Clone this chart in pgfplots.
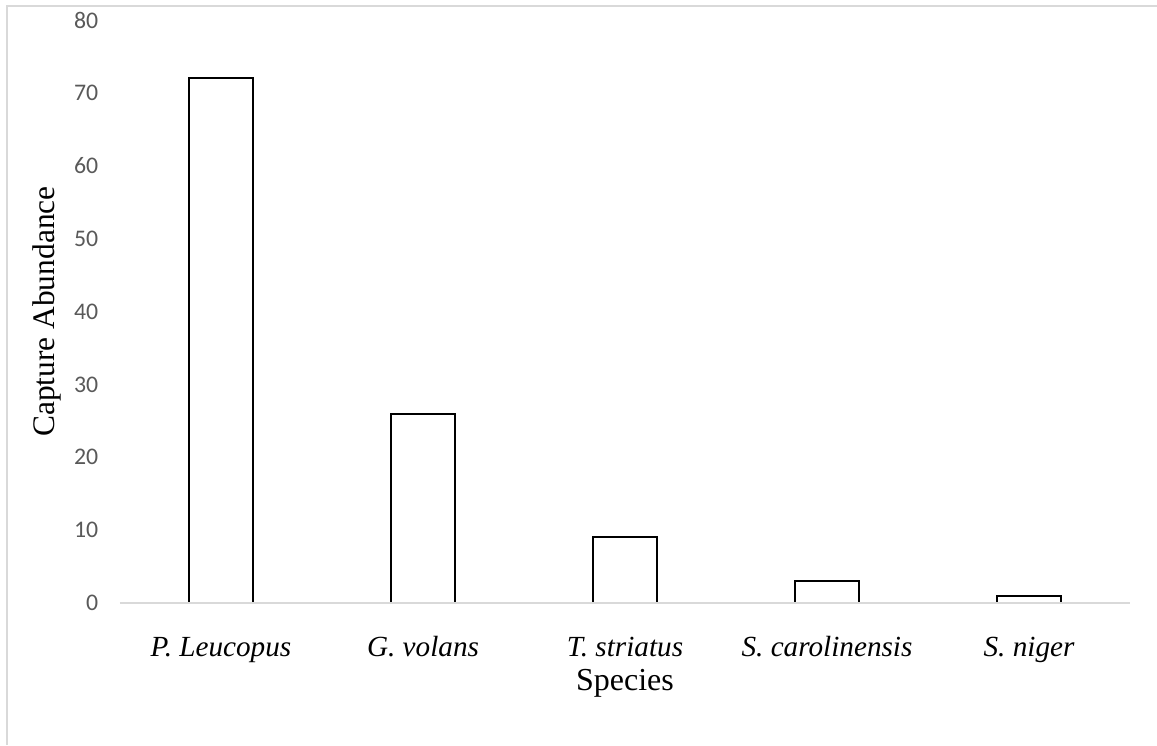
\documentclass[border=0pt]{standalone}
\usepackage{fontspec}
\setmainfont{Liberation Serif}
\newfontfamily\calibri{Carlito}
\usepackage{pgfplots}
\pgfplotsset{compat=1.18}
\definecolor{framegray}{HTML}{D9D9D9}
\definecolor{ticktext}{HTML}{595959}

\begin{document}
\begin{tikzpicture}
	% page size: 1157 x 745 px at 0.5pt per px, axis box at (0,0)
	\useasboundingbox (-60pt,-71pt) rectangle (518.5pt,301.5pt);
	\draw[framegray, line width=1pt] (-56.5pt,-71pt) -- (-56.5pt,298.5pt) -- (518.5pt,298.5pt);
	\begin{axis}[
		name=ax,
		scale only axis,
		width=505pt, height=291.5pt,
		ybar, bar width=0.32,
		xmin=-0.5, xmax=4.5,
		ymin=0, ymax=80,
		ytick={0,10,...,80},
		xtick=data,
		xticklabels={P. Leucopus, G. volans, T. striatus, S. carolinensis, S. niger},
		axis x line*=bottom, axis y line*=left,
		axis line style={-},
		x axis line style={framegray, line width=1pt},
		y axis line style={draw=none},
		tick style={draw=none},
		axis on top,
		/pgf/number format/assume math mode=true,
		yticklabel style={font=\calibri\fontsize{11.9}{14}\selectfont, text=ticktext, xshift=-7.4pt},
		xticklabel style={font=\fontsize{14.6}{17}\selectfont\itshape, text height=10pt, text depth=3pt, inner sep=0pt, yshift=-12.5pt},
	]
	\addplot[draw=black, fill=white, line width=1pt] coordinates {
		(0,72) (1,26) (2,9) (3,3) (4,1)
	};
	\end{axis}
	\node[rotate=90, anchor=base, font=\fontsize{15.7}{19}\selectfont] at ([xshift=-32.5pt]ax.west) {Capture Abundance};
	\node[anchor=base, font=\fontsize{16}{19}\selectfont] at ([yshift=-43.5pt]ax.south) {Species};
\end{tikzpicture}
\end{document}
